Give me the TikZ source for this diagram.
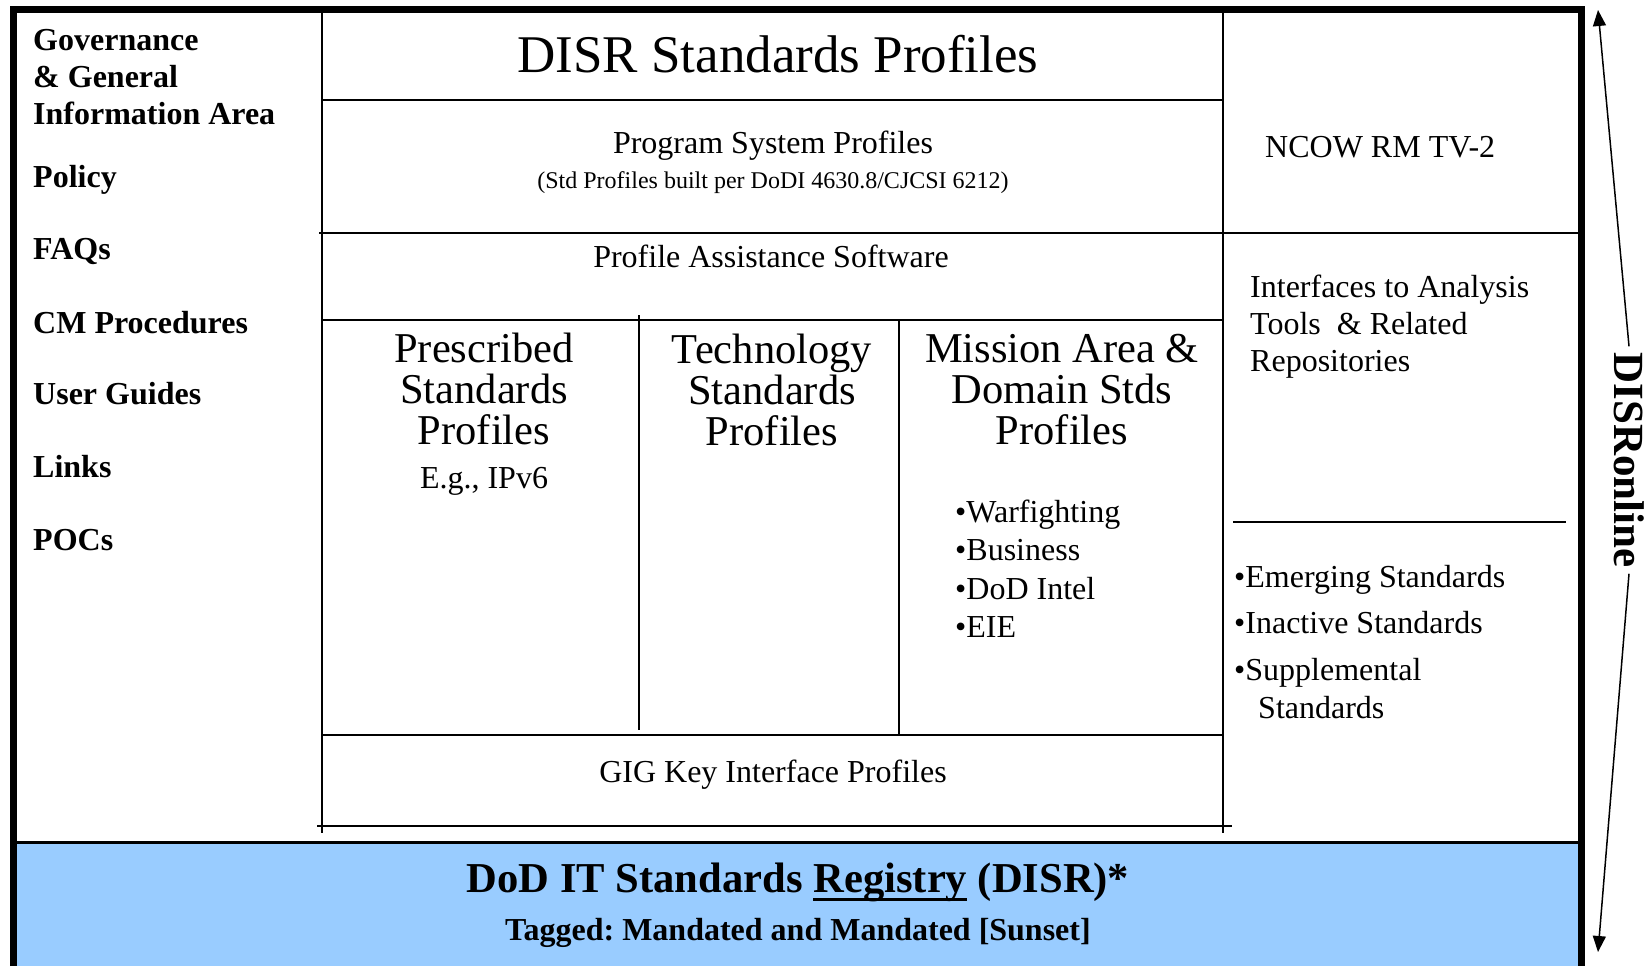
\documentclass[tikz,border=0pt]{standalone}
\usepackage{fontspec}
\setmainfont{Liberation Serif}
\usetikzlibrary{arrows.meta}

\definecolor{disrblue}{RGB}{153,204,255}
\frenchspacing

% underline thicker than \underline
\newcommand{\regul}[1]{\setbox0=\hbox{#1}\rlap{\rule[-8.6pt]{\wd0}{2.6pt}}\box0\relax}

\tikzset{
  txt/.style={inner sep=0pt, anchor=base, font=\fontsize{32}{38}\selectfont},
  gov/.style={inner sep=0pt, anchor=base west, font=\bfseries\fontsize{32}{37}\selectfont},
  big/.style={inner sep=0pt, anchor=base, font=\fontsize{42.5}{41}\selectfont},
  cell/.style={line width=2.2pt},
  arr/.style={line width=1.5pt, -{Triangle[length=16pt,width=13pt]}},
}

\begin{document}
\begin{tikzpicture}[x=1pt, y=-1pt]

  % Bounding box of the scheme
  \useasboundingbox (0,0) rectangle (1648,966);

  %%%%%%%%%%%%%%%%%%%%%%%%%%%%%%%%% Registry band and frame %%%%%%%%%%%%%%%%%%%%%%%%%%%%%%%%%%
  \fill[disrblue] (17,841) rectangle (1578,966);
  \draw[line width=3pt] (17,842) -- (1578,842);
  \draw[line width=7pt] (13.5,966) -- (13.5,9.5) -- (1581.5,9.5) -- (1581.5,966);

  %%%%%%%%%%%%%%%%%%%%%%%%%%%%%%%%% Cells of the profiles %%%%%%%%%%%%%%%%%%%%%%%%%%%%%%%%%%%%

  % Columns
  \draw[cell] (322,13) -- (322,833);
  \draw[cell] (1223,13) -- (1223,833);
  \draw[cell] (639,315) -- (639,730);
  \draw[cell] (899,320) -- (899,735);

  % Rows
  \draw[cell] (322,100) -- (1223,100);
  \draw[cell] (319,233) -- (1578,233);
  \draw[cell] (322,320) -- (1223,320);
  \draw[cell] (322,735) -- (1223,735);
  \draw[cell] (317,826) -- (1232,826);
  \draw[cell] (1233,522) -- (1566,522);

  %%%%%%%%%%%%%%%%%%%%%%%%%%%%%%%%% Governance area %%%%%%%%%%%%%%%%%%%%%%%%%%%%%%%%%%%%%%%%%%
  \foreach \txt/\yy [count=\i] in {Governance/51, {\& General}/88, Information Area/124,
                                  Policy/187, FAQs/259, CM Procedures/333,
                                  User Guides/404, Links/477, POCs/550} {
    \node[gov] (gov\i) at (33,\yy) {\txt};
  }

  %%%%%%%%%%%%%%%%%%%%%%%%%%%%%%%%% Middle column %%%%%%%%%%%%%%%%%%%%%%%%%%%%%%%%%%%%%%%%%%%%
  \node[txt, font=\fontsize{53}{60}\selectfont] (title) at (778,73) {DISR Standards Profiles};
  \node[txt] (prog) at (773,153) {Program System Profiles};
  \node[txt, font=\fontsize{24}{28}\selectfont] (progsub) at (773,188)
       {(Std Profiles built per DoDI 4630.8/CJCSI 6212)};
  \node[txt] (pas) at (771,267) {Profile Assistance Software};

  % Three profile columns
  \foreach \txt/\yy [count=\i] in {Prescribed/362, Standards/403, Profiles/444} {
    \node[big] (presc\i) at (484,\yy) {\txt};
  }
  \node[txt] (eg) at (484,488) {E.g., IPv6};

  \foreach \txt/\yy [count=\i] in {Technology/363, Standards/404, Profiles/445} {
    \node[big] (tech\i) at (772,\yy) {\txt};
  }

  \foreach \txt/\yy [count=\i] in {{Mission Area \&}/362, Domain Stds/403, Profiles/444} {
    \node[big] (miss\i) at (1062,\yy) {\txt};
  }
  \foreach \txt/\yy [count=\i] in {Warfighting/522, Business/560, DoD Intel/599, EIE/637} {
    \node[txt, anchor=base west] (dom\i) at (955,\yy) {•\txt};
  }

  \node[txt] (gig) at (773,782) {GIG Key Interface Profiles};

  %%%%%%%%%%%%%%%%%%%%%%%%%%%%%%%%% Right column %%%%%%%%%%%%%%%%%%%%%%%%%%%%%%%%%%%%%%%%%%%%%
  \node[txt, anchor=base west] (ncow) at (1265,157) {NCOW RM TV-2};

  \foreach \txt/\yy [count=\i] in {Interfaces to Analysis/297, {Tools\ \ \& Related}/334,
                                  Repositories/371} {
    \node[txt, anchor=base west] (intf\i) at (1250,\yy) {\txt};
  }

  \foreach \txt/\yy [count=\i] in {Emerging Standards/587, Inactive Standards/633,
                                  Supplemental/680} {
    \node[txt, anchor=base west] (other\i) at (1234,\yy) {•\txt};
  }
  \node[txt, anchor=base west] (other4) at (1258,718) {Standards};

  %%%%%%%%%%%%%%%%%%%%%%%%%%%%%%%%% Registry %%%%%%%%%%%%%%%%%%%%%%%%%%%%%%%%%%%%%%%%%%%%%%%%%
  \node[txt, font=\bfseries\fontsize{42.6}{48}\selectfont] (reg) at (798,892)
       {DoD IT Standards \regul{Registry} (DISR)*};
  \node[txt, font=\bfseries\fontsize{32}{38}\selectfont] (tag) at (798,940)
       {Tagged: Mandated and Mandated [Sunset]};

  %%%%%%%%%%%%%%%%%%%%%%%%%%%%%%%%% DISRonline %%%%%%%%%%%%%%%%%%%%%%%%%%%%%%%%%%%%%%%%%%%%%%%
  \node[rotate=-90, inner sep=6pt, font=\bfseries\fontsize{43}{48}\selectfont] (disr) at (1629,460) {DISRonline};
  \coordinate (uptip) at (1598,10);
  \coordinate (downtip) at (1598,952);
  \draw[arr] (disr.west) -- (uptip);
  \draw[arr] (disr.east) -- (downtip);

\end{tikzpicture}
\end{document}
